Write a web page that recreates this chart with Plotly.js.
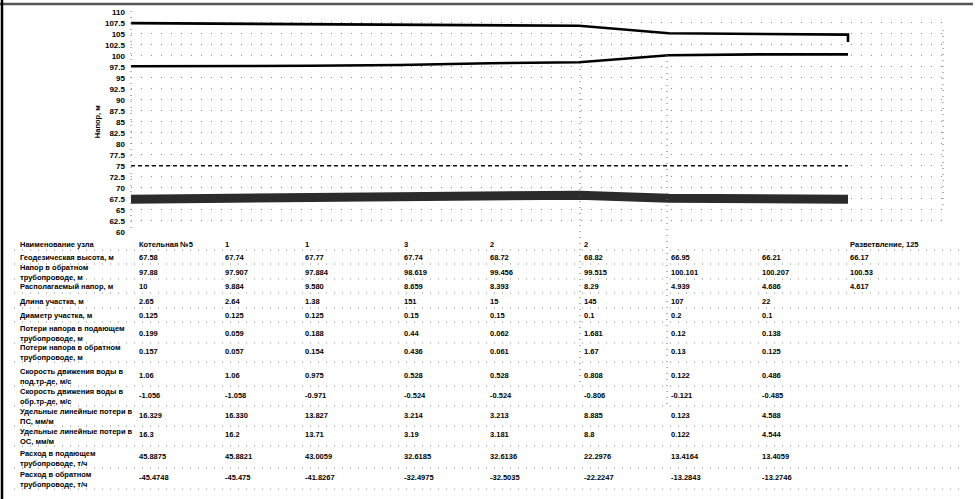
<!DOCTYPE html>
<html><head><meta charset="utf-8">
<script src="https://cdn.plot.ly/plotly-3.0.1.min.js"></script>
<style>html,body{margin:0;padding:0;background:#fff}</style>
</head><body><div id="chart" style="width:976px;height:499px"></div>
<script>
// ---- data ----
const nodeIndex   = [0, 1, 2, 3, 4, 5, 6, 7, 8];
const supplyHead  = [107.4, 107.3, 107.2, 107.0, 106.9, 106.8, 105.1, 104.9, 104.8];
const supplyEndDrop = 103.1;
const returnHead  = [97.6, 97.6, 97.7, 97.9, 98.3, 98.5, 100.1, 100.3, 100.3];
const groundLevel = [67.4, 67.5, 67.6, 67.8, 68.2, 68.3, 67.6, 67.4, 67.4];
const staticHead  = [75, 75, 75, 75, 75, 75, 75, 75, 75];

const yTickVals = [60, 62.5, 65, 67.5, 70, 72.5, 75, 77.5, 80, 82.5, 85, 87.5, 90, 92.5, 95, 97.5, 100, 102.5, 105, 107.5, 110];
const yTickText = ['60','62.5','65','67.5','70','72.5','75','77.5','80','82.5','85','87.5','90','92.5','95','97.5','100','102.5','105','107.5','110'];

const rowLabels = [
  'Наименование узла',
  'Геодезическая высота, м',
  'Напор в обратном<br>трубопроводе, м',
  'Располагаемый напор, м',
  'Длина участка, м',
  'Диаметр участка, м',
  'Потери напора в подающем<br>трубопроводе, м',
  'Потери напора в обратном<br>трубопроводе, м',
  'Скорость движения воды в<br>под.тр-де, м/с',
  'Скорость движения воды в<br>обр.тр-де, м/с',
  'Удельные линейные потери в<br>ПС, мм/м',
  'Удельные линейные потери в<br>ОС, мм/м',
  'Расход в подающем<br>трубопроводе, т/ч',
  'Расход в обратном<br>трубопроводе, т/ч'
];
const nodeNames     = ['Котельная №5', '1', '1', '3', '2', '2', '', '', 'Разветвление, 125'];
const geoHeight     = ['67.58', '67.74', '67.77', '67.74', '68.72', '68.82', '66.95', '66.21', '66.17'];
const returnHeadTxt = ['97.88', '97.907', '97.884', '98.619', '99.456', '99.515', '100.101', '100.207', '100.53'];
const availHead     = ['10', '9.884', '9.580', '8.659', '8.393', '8.29', '4.939', '4.686', '4.617'];
const segLength     = ['2.65', '2.64', '1.38', '151', '15', '145', '107', '22'];
const segDiameter   = ['0.125', '0.125', '0.125', '0.15', '0.15', '0.1', '0.2', '0.1'];
const lossSupply    = ['0.199', '0.059', '0.188', '0.44', '0.062', '1.681', '0.12', '0.138'];
const lossReturn    = ['0.157', '0.057', '0.154', '0.436', '0.061', '1.67', '0.13', '0.125'];
const velSupply     = ['1.06', '1.06', '0.975', '0.528', '0.528', '0.808', '0.122', '0.486'];
const velReturn     = ['-1.056', '-1.058', '-0.971', '-0.524', '-0.524', '-0.806', '-0.121', '-0.485'];
const specLossPS    = ['16.329', '16.330', '13.827', '3.214', '3.213', '8.885', '0.123', '4.588'];
const specLossOS    = ['16.3', '16.2', '13.71', '3.19', '3.181', '8.8', '0.122', '4.544'];
const flowSupply    = ['45.8875', '45.8821', '43.0059', '32.6185', '32.6136', '22.2976', '13.4164', '13.4059'];
const flowReturn    = ['-45.4748', '-45.475', '-41.8267', '-32.4975', '-32.5035', '-22.2247', '-13.2843', '-13.2746'];

const tableRows = [nodeNames, geoHeight, returnHeadTxt, availHead, segLength, segDiameter,
  lossSupply, lossReturn, velSupply, velReturn, specLossPS, specLossOS, flowSupply, flowReturn];

// ---- layout (pixels of the 976x499 picture) ----
const W = 976, H = 499;
const px = x => x / W;
const py = y => 1 - y / H;
const colX = [137, 223, 303, 402, 488, 582, 669, 760, 848];
const labelY = [244, 257, 272, 286, 301, 315, 333, 352, 376, 396, 416, 436, 458, 479];
const valueY = [244, 257, 272, 286, 301, 315, 333, 351, 375, 395, 415, 434, 456, 477];
const sepY = [250, 264, 279, 293, 308, 322, 343, 362, 386, 406, 426, 446, 468, 489];

const F = {family: 'Arial, "Liberation Sans", sans-serif', size: 7.5, color: '#000', weight: 700};
const FT = {family: 'Arial, "Liberation Sans", sans-serif', size: 8, color: '#000', weight: 700};

const traces = [
  {x: nodeIndex, y: groundLevel, mode: 'lines', line: {color: '#2b2b2b', width: 9}, hoverinfo: 'skip', name: 'ground'},
  {x: nodeIndex, y: staticHead, mode: 'lines', line: {color: '#111', width: 1.6, dash: '4px,3px'}, name: 'static'},
  {x: nodeIndex.concat([nodeIndex[nodeIndex.length - 1]]), y: supplyHead.concat([supplyEndDrop]), mode: 'lines', line: {color: '#000', width: 2.6}, name: 'supply'},
  {x: nodeIndex, y: returnHead, mode: 'lines', line: {color: '#000', width: 2.6}, name: 'return'}
];

const annotations = [];
rowLabels.forEach((t, r) => {
  annotations.push({xref: 'paper', yref: 'paper', x: px(18), y: py(labelY[r]), xanchor: 'left', yanchor: 'middle', align: 'left', text: t, showarrow: false, font: F});
  tableRows[r].forEach((v, c) => {
    if (v === '') return;
    annotations.push({xref: 'paper', yref: 'paper', x: px(colX[c]), y: py(valueY[r]), xanchor: 'left', yanchor: 'middle', align: 'left', text: v, showarrow: false, font: F});
  });
});

const dot = {color: '#6a6a6a', width: 1, dash: '1px,5px'};
const shapes = [
  {type: 'line', xref: 'paper', yref: 'paper', x0: 0, x1: px(973), y0: py(4), y1: py(4), line: {color: '#555', width: 2.5}},
  {type: 'line', xref: 'paper', yref: 'paper', x0: px(2), x1: px(2), y0: 0, y1: 1, line: {color: '#000', width: 2.5}},
  {type: 'line', xref: 'paper', yref: 'paper', x0: px(131), x1: px(131), y0: py(11), y1: py(232), line: dot},
  {type: 'line', xref: 'paper', yref: 'paper', x0: px(580), x1: px(580), y0: py(45), y1: py(385), line: dot},
  {type: 'line', xref: 'paper', yref: 'paper', x0: px(667), x1: px(667), y0: py(55), y1: py(405), line: dot},
  {type: 'line', xref: 'paper', yref: 'paper', x0: px(943), x1: px(943), y0: py(30), y1: py(210), line: dot}
];
sepY.forEach(y => shapes.push({type: 'line', xref: 'paper', yref: 'paper', x0: px(14), x1: px(962), y0: py(y), y1: py(y), line: {color: '#8a8a8a', width: 1, dash: '1px,7px'}}));

const layout = {
  width: W, height: H,
  margin: {l: 0, r: 0, t: 0, b: 0},
  paper_bgcolor: '#fff', plot_bgcolor: '#fff',
  showlegend: false,
  xaxis: {domain: [px(131), px(943)], range: [0, 9.06], visible: false, fixedrange: true},
  yaxis: {
    domain: [py(231.7), py(11.7)], range: [60, 110],
    tickmode: 'array', tickvals: yTickVals, ticktext: yTickText,
    ticks: '', showline: false, zeroline: false,
    showgrid: true, gridcolor: '#8c8c8c', gridwidth: 1, griddash: '1px,9px',
    tickfont: FT, ticklabelstandoff: 5,
    title: {text: 'Напор, м', font: F, standoff: 3}
  },
  annotations: annotations,
  shapes: shapes
};

Plotly.newPlot('chart', traces, layout, {staticPlot: true, displayModeBar: false});
</script>
</body></html>
